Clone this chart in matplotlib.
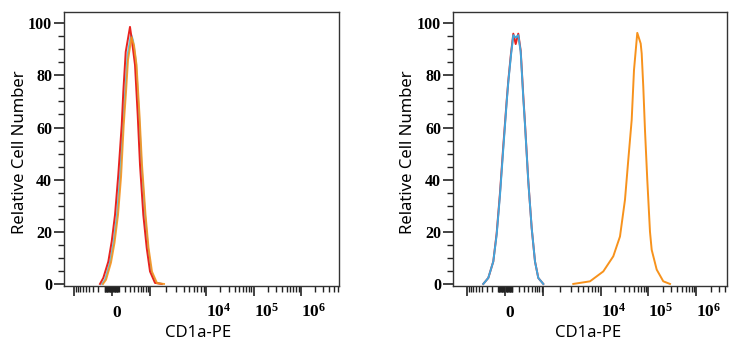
import numpy as np
import matplotlib
matplotlib.use('Agg')
import matplotlib.pyplot as plt
from matplotlib.ticker import FixedLocator, FixedFormatter

plt.rcParams['mathtext.fontset'] = 'custom'
plt.rcParams['mathtext.rm'] = 'Liberation Serif:bold'
plt.rcParams['mathtext.it'] = 'Liberation Serif:bold'
plt.rcParams['mathtext.bf'] = 'Liberation Serif:bold'

# --- datos (intensidade CD1a-PE, numero relativo de celulas) ---
# painel esquerdo: controles + amostra, todos sobrepostos
red_l_x = [-174, -121, -47, 0, 46, 93, 146, 172, 214, 299, 337, 420, 498, 573, 698, 851, 1020, 1254, 1650]
red_l_y = [0, 2.3, 8.6, 16.3, 26.5, 41.8, 61, 73.7, 89, 98.6, 94, 84, 64.8, 45.7, 26.5, 13.8, 4.8, 0.4, 0]
blue_l_x = [-141, -95, -24, 25, 74, 119, 167, 201, 248, 321, 368, 448, 540, 627, 771, 917, 1064, 1307, 1671]
blue_l_y = [0, 1.6, 8.2, 15.8, 26.5, 41, 61, 72.6, 87.7, 95.8, 93.5, 85, 64.8, 45.7, 26.5, 13.9, 4.7, 0.5, 0]
orng_l_x = [-125, -80, -10, 39, 89, 135, 179, 219, 258, 333, 394, 462, 556, 646, 794, 944, 1108, 1362, 1812]
orng_l_y = [0, 1.6, 8.2, 15.8, 26.5, 41, 61, 73.5, 86, 94.6, 91.5, 84, 64.8, 45.7, 26.5, 13.9, 4.7, 0.3, 0]

# painel direito: controles em zero, amostra positiva
blue_r_x = [-378, -266, -175, -121, -72, -26, 21, 43, 81, 115, 152, 195, 239, 291, 328, 408, 505, 616, 747, 993]
blue_r_y = [0, 2.3, 8.6, 18.9, 34.2, 52, 69.9, 77.5, 87.8, 95.4, 94.5, 95.4, 89, 71.2, 61, 39.3, 21.4, 8.6, 2.3, 0]
red_r_y = [0, 2.3, 8.6, 19.5, 35, 53, 70.5, 78, 88.5, 96, 92, 96, 89.5, 72, 61.5, 39.5, 21.4, 8.6, 2.3, 0]
orng_r_x = [3341, 6513, 11314, 18321, 25305, 32202, 37753, 44476, 49690, 58257, 68631, 72020, 77793, 84436, 94335, 107446, 116621, 148404, 203990, 281750]
orng_r_y = [0, 1, 4.8, 10.6, 18.2, 32.3, 47.6, 62.9, 82, 96.3, 92.2, 88.4, 75.6, 59, 39.9, 20, 13.1, 5.5, 1, 0]

xlims = [(-1502, 6.43e6), (-1765, 4.40e6)]
major_x = [-1e3, 0, 1e3, 1e4, 1e5, 1e6]
major_lbl = ['', r'$0$', '', r'$10^{4}$', r'$10^{5}$', r'$10^{6}$']
y_major = [0, 20, 40, 60, 80, 100]

RED = '#e8231f'
CYAN = '#5ec8e6'
BLUE = '#41a5dc'
ORANGE = '#f7921c'

# escala biexponencial aproximada (linear perto de zero, log depois)
W = 250.0
XA = np.arcsinh(np.array([-1e7, -1e4, -1e3, 0, 1e3, 1e4, 1e5, 1e6, 1e7]) / W)
UA = np.array([-5, -2, -0.8, 0, 0.8, 2, 3, 4, 5])


def fwd(x):
    return np.interp(np.arcsinh(np.asarray(x, dtype=float) / W), XA, UA)


def inv(u):
    return W * np.sinh(np.interp(np.asarray(u, dtype=float), UA, XA))


minor_x = []
for d in [1, 2]:
    for k in range(1, 10):
        minor_x += [k * 10 ** d, -k * 10 ** d]
for d in [3, 4, 5, 6]:
    for k in range(2, 10):
        minor_x.append(k * 10 ** d)

fig = plt.figure(figsize=(7.38, 3.5), dpi=100)
ax1 = fig.add_axes([64 / 738, 1 - 285.5 / 350, 275 / 738, 273.5 / 350])
ax2 = fig.add_axes([453 / 738, 1 - 285.5 / 350, 274 / 738, 273.5 / 350])

ax1.plot(blue_l_x, blue_l_y, color=CYAN, lw=1.4, solid_joinstyle='round')
ax1.plot(red_l_x, red_l_y, color=RED, lw=1.4, solid_joinstyle='round')
ax1.plot(orng_l_x, orng_l_y, color=ORANGE, lw=1.4, alpha=0.9, solid_joinstyle='round')

ax2.plot(blue_r_x, red_r_y, color=RED, lw=1.4, solid_joinstyle='round')
ax2.plot(blue_r_x, blue_r_y, color=BLUE, lw=1.4, solid_joinstyle='round')
ax2.plot(orng_r_x, orng_r_y, color=ORANGE, lw=1.4, solid_joinstyle='round')

for ax, lim, ylx, xlx in [(ax1, xlims[0], -0.16, 0.487), (ax2, xlims[1], -0.164, 0.493)]:
    ax.set_xscale('function', functions=(fwd, inv))
    ax.set_xlim(*lim)
    ax.set_ylim(-0.6, 104.3)
    lo, hi = lim
    ax.xaxis.set_major_locator(FixedLocator(major_x))
    ax.xaxis.set_major_formatter(FixedFormatter(major_lbl))
    ax.xaxis.set_minor_locator(FixedLocator([m for m in minor_x if lo < m < hi]))
    ax.yaxis.set_major_locator(FixedLocator(y_major))
    ax.yaxis.set_minor_locator(FixedLocator(np.arange(0, 105, 5)))
    ax.tick_params(which='major', direction='out', length=7, width=1.2, color='#222222')
    ax.tick_params(which='minor', direction='out', length=4, width=1.0, color='#222222')
    ax.tick_params(axis='x', which='major', pad=15.5, labelsize=12.5)
    ax.tick_params(axis='y', which='major', pad=1.5)
    for lab in ax.get_xticklabels():
        lab.set_horizontalalignment('left')
        lab.set_verticalalignment('baseline')
    for lab in ax.get_yticklabels():
        lab.set_fontfamily('Liberation Serif')
        lab.set_fontweight('bold')
        lab.set_fontsize(11.5)
    for s in ax.spines.values():
        s.set_linewidth(1.0)
        s.set_color('#333333')
    ax.set_ylabel('Relative Cell Number', fontsize=12, family='Noto Sans')
    ax.set_xlabel('CD1a-PE', fontsize=12, family='Noto Sans')
    ax.yaxis.set_label_coords(ylx, 0.488)
    ax.xaxis.set_label_coords(xlx, -0.175)
    ax.xaxis.label.set_verticalalignment('center')
    ax.yaxis.label.set_verticalalignment('center')

fig.savefig('out.png', dpi=100)
